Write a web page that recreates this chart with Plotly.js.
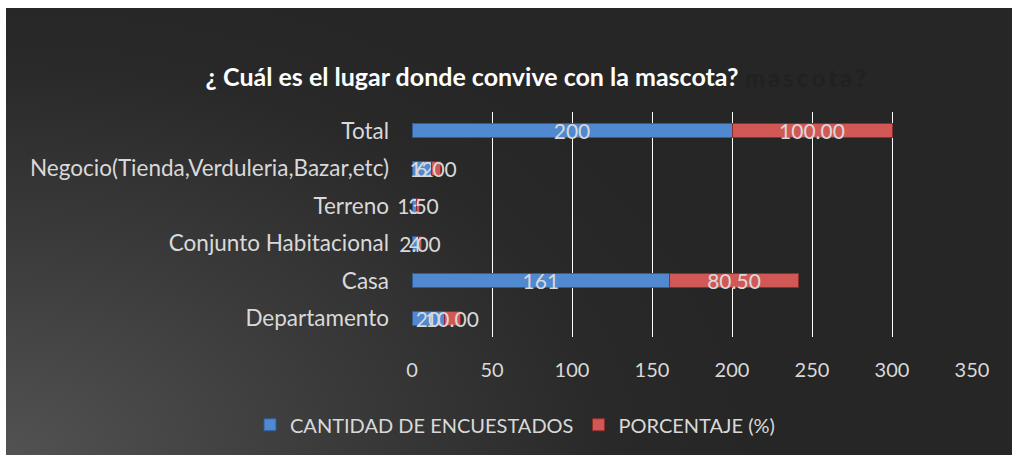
<!DOCTYPE html>
<html>
<head>
<meta charset="utf-8">
<script src="https://cdn.plot.ly/plotly-3.0.1.min.js"></script>
<style>
  html, body { margin: 0; padding: 0; background: #ffffff; width: 1012px; height: 455px; overflow: hidden; }
  #bg { position: absolute; left: 6px; top: 8px; width: 1006px; height: 447px;
        background: radial-gradient(ellipse 75% 110% at 0% 100%, #525252 0%, #3a3a3a 45%, #292929 80%, #262626 100%); }
  #chart { position: absolute; left: 0; top: 0; width: 1012px; height: 455px; }
</style>
</head>
<body>
<div id="bg"></div>
<div id="chart"></div>
<script>
const categories = ['Departamento', 'Casa', 'Conjunto Habitacional', 'Terreno', 'Negocio(Tienda,Verduleria,Bazar,etc)', 'Total'];
const cantidad = [20, 161, 4, 3, 12, 200];
const porcentaje = [10.00, 80.50, 2.00, 1.50, 6.00, 100.00];
const seriesNames = ['CANTIDAD DE ENCUESTADOS', 'PORCENTAJE (%)'];
const xTicks = [0, 50, 100, 150, 200, 250, 300, 350];
const chartTitle = '¿ Cuál es el lugar donde convive con la mascota?';

const FONT = 'Lato, "Open Sans", sans-serif';
const TXT = '#d9d9d9';

const common = {
  type: 'bar',
  orientation: 'h',
  y: categories,
  textposition: 'inside',
  insidetextanchor: 'middle',
  textangle: 0,
  constraintext: 'none',
  cliponaxis: false,
  insidetextfont: { family: FONT, size: 21, color: TXT },
  hoverinfo: 'x+y+name'
};

const traces = [
  Object.assign({}, common, {
    name: seriesNames[0],
    x: cantidad,
    text: cantidad.map(v => String(v)),
    marker: { color: '#5089d0', line: { color: '#2f5d96', width: 1 } }
  }),
  Object.assign({}, common, {
    name: seriesNames[1],
    x: porcentaje,
    text: porcentaje.map(v => v.toFixed(2)),
    marker: { color: '#d25856', line: { color: '#8e2e2c', width: 1 } }
  })
];

const layout = {
  width: 1012,
  height: 455,
  paper_bgcolor: 'rgba(0,0,0,0)',
  plot_bgcolor: 'rgba(0,0,0,0)',
  margin: { l: 412, r: 40, t: 112, b: 118, pad: 0, autoexpand: false },
  barmode: 'stack',
  bargap: 0.62,
  font: { family: FONT, size: 20, color: TXT },
  title: {
    text: '<b>' + chartTitle + '</b>',
    font: { family: FONT, size: 25, color: '#ffffff' },
    x: 472 / 1012, xanchor: 'center', xref: 'container',
    y: (455 - 77) / 455, yref: 'container', yanchor: 'middle'
  },
  xaxis: {
    range: [0, 350],
    tickvals: xTicks,
    ticktext: xTicks.map(String),
    showgrid: true,
    gridcolor: '#ffffff',
    gridwidth: 1,
    zeroline: true,
    zerolinecolor: 'rgba(0,0,0,0)',
    showline: false,
    ticks: '',
    ticklabelstandoff: 19,
    tickfont: { family: FONT, size: 20, color: TXT },
    fixedrange: true
  },
  yaxis: {
    type: 'category',
    categoryorder: 'array',
    categoryarray: categories,
    showgrid: false,
    zeroline: false,
    showline: false,
    ticks: '',
    ticklabelstandoff: 22,
    tickfont: { family: FONT, size: 22.5, color: TXT },
    fixedrange: true
  },
  legend: {
    orientation: 'h',
    x: (515 - 412) / 560, xref: 'paper', xanchor: 'center',
    y: -0.39, yanchor: 'middle',
    font: { family: FONT, size: 20, color: TXT },
    bgcolor: 'rgba(0,0,0,0)',
    traceorder: 'normal',
    itemwidth: 30
  },
  annotations: [{
    text: '<b>m\u2009a\u2009s\u2009c\u2009o\u2009t\u2009a\u2009?</b>',
    xref: 'paper', yref: 'paper',
    x: (743 - 412) / 560, y: 1 + (112 - 77) / 225,
    xanchor: 'left', yanchor: 'middle',
    showarrow: false,
    font: { family: FONT, size: 24, color: '#212121' }
  }],
  showlegend: true
};

Plotly.newPlot('chart', traces, layout, { displayModeBar: false, staticPlot: true });
</script>
</body>
</html>
